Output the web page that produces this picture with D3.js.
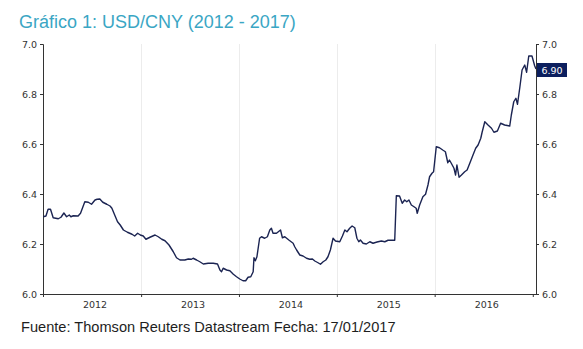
<!DOCTYPE html>
<html>
<head>
<meta charset="utf-8">
<script src="https://cdn.jsdelivr.net/npm/d3@7/dist/d3.min.js"></script>
<style>
  html, body { margin: 0; padding: 0; background: #ffffff; }
  svg { display: block; }
</style>
</head>
<body>
<svg id="chart" width="583" height="349"></svg>
<script>
// USD/CNY exchange rate, roughly fortnightly readings, Jan 2012 – Jan 2017
const dates = [
  "2012-01-02","2012-01-12","2012-01-20","2012-01-29","2012-02-08","2012-02-27","2012-03-08","2012-03-19",
  "2012-03-29","2012-04-08","2012-04-14","2012-04-23","2012-05-11","2012-05-20","2012-06-05","2012-06-18",
  "2012-06-30","2012-07-13","2012-07-21","2012-07-31","2012-08-11","2012-08-26","2012-09-07","2012-09-14",
  "2012-09-26","2012-10-05","2012-10-15","2012-10-27","2012-11-11","2012-11-28","2012-12-08","2012-12-19",
  "2012-12-29","2013-01-09","2013-01-19","2013-02-03","2013-02-22","2013-03-06","2013-03-19","2013-03-31",
  "2013-04-15","2013-05-01","2013-05-13","2013-05-26","2013-06-13","2013-06-26","2013-07-08","2013-07-14",
  "2013-07-27","2013-08-08","2013-08-21","2013-09-08","2013-09-27","2013-10-13","2013-10-22","2013-10-28",
  "2013-11-03","2013-11-16","2013-11-28","2013-12-11","2013-12-23","2014-01-04","2014-01-16","2014-01-26",
  "2014-02-04","2014-02-14","2014-02-23","2014-02-26","2014-03-03","2014-03-09","2014-03-19","2014-03-26",
  "2014-04-07","2014-04-17","2014-04-26","2014-05-02","2014-05-08","2014-05-21","2014-06-05","2014-06-12",
  "2014-06-21","2014-07-06","2014-07-22","2014-07-28","2014-08-04","2014-08-16","2014-08-28","2014-09-10",
  "2014-09-22","2014-10-02","2014-10-11","2014-10-23","2014-11-01","2014-11-11","2014-11-21","2014-11-29",
  "2014-12-08","2014-12-18","2014-12-27","2015-01-12","2015-01-22","2015-01-31","2015-02-08","2015-02-18",
  "2015-02-27","2015-03-09","2015-03-17","2015-03-24","2015-03-30","2015-04-09","2015-04-21","2015-05-04",
  "2015-05-16","2015-05-31","2015-06-16","2015-06-29","2015-07-11","2015-08-05","2015-08-11","2015-08-23",
  "2015-09-02","2015-09-11","2015-09-19","2015-09-27","2015-10-06","2015-10-16","2015-10-24","2015-10-28",
  "2015-11-06","2015-11-18","2015-11-28","2015-12-07","2015-12-13","2015-12-22","2015-12-28","2016-01-07",
  "2016-01-19","2016-01-31","2016-02-10","2016-02-19","2016-02-25","2016-03-03","2016-03-13","2016-03-19",
  "2016-03-24","2016-04-01","2016-04-10","2016-04-22","2016-05-01","2016-05-11","2016-05-23","2016-06-02",
  "2016-06-11","2016-06-21","2016-06-26","2016-07-06","2016-07-18","2016-07-31","2016-08-09","2016-08-22",
  "2016-09-03","2016-09-18","2016-10-07","2016-10-13","2016-10-22","2016-10-30","2016-11-05","2016-11-14",
  "2016-11-22","2016-12-02","2016-12-09","2016-12-17","2016-12-29","2017-01-08","2017-01-13"
];
const rates = [
  6.309,6.312,6.339,6.339,6.305,6.301,6.307,6.324,
  6.309,6.316,6.309,6.313,6.312,6.323,6.369,6.367,
  6.359,6.376,6.379,6.380,6.367,6.359,6.352,6.343,
  6.312,6.289,6.276,6.256,6.247,6.239,6.232,6.243,
  6.236,6.232,6.219,6.227,6.236,6.229,6.219,6.213,
  6.196,6.169,6.145,6.136,6.136,6.140,6.139,6.143,
  6.136,6.129,6.120,6.123,6.123,6.120,6.096,6.089,
  6.103,6.096,6.093,6.079,6.069,6.060,6.053,6.053,
  6.067,6.069,6.089,6.145,6.133,6.149,6.223,6.229,
  6.223,6.229,6.256,6.263,6.243,6.243,6.256,6.225,
  6.229,6.216,6.203,6.189,6.176,6.156,6.152,6.143,
  6.139,6.140,6.132,6.125,6.119,6.129,6.136,6.149,
  6.176,6.223,6.212,6.209,6.232,6.256,6.249,6.263,
  6.272,6.265,6.223,6.209,6.216,6.203,6.200,6.209,
  6.203,6.208,6.212,6.209,6.215,6.215,6.393,6.392,
  6.363,6.376,6.369,6.376,6.356,6.349,6.343,6.323,
  6.356,6.389,6.399,6.436,6.469,6.483,6.489,6.589,
  6.585,6.576,6.569,6.525,6.536,6.523,6.503,6.476,
  6.516,6.467,6.476,6.489,6.496,6.523,6.556,6.583,
  6.596,6.623,6.647,6.689,6.676,6.663,6.647,6.652,
  6.683,6.676,6.672,6.716,6.769,6.783,6.759,6.829,
  6.896,6.916,6.887,6.952,6.952,6.913,6.900
];
const yTicks = [6.0, 6.2, 6.4, 6.6, 6.8, 7.0];
const yearLabels = ["2012", "2013", "2014", "2015", "2016"];
const yearBounds = ["2012-01-01","2013-01-01","2014-01-01","2015-01-01","2016-01-01","2017-01-01"];
const lastLabel = "6.90";
const titleText = "Gráfico 1: USD/CNY (2012 - 2017)";
const sourceText = "Fuente: Thomson Reuters Datastream Fecha: 17/01/2017";

const parse = d3.utcParse("%Y-%m-%d");
const series = dates.map((d, i) => ({ date: parse(d), value: rates[i] }));

const svg = d3.select("#chart");
const plotLeft = 43, plotRight = 536, plotTop = 44, plotBottom = 294;

const x = d3.scaleUtc()
  .domain([parse("2012-01-01"), parse("2017-01-13")])
  .range([plotLeft, plotRight]);
const y = d3.scaleLinear().domain([6.0, 7.0]).range([plotBottom, plotTop]);

const axisColor = "#333333";
const labelFont = "'DejaVu Sans', Verdana, sans-serif";

// faint vertical year separators
svg.append("g")
  .selectAll("line")
  .data(yearBounds.slice(1, 5).map(parse))
  .join("line")
  .attr("x1", d => Math.round(x(d)) + 0.5)
  .attr("x2", d => Math.round(x(d)) + 0.5)
  .attr("y1", plotTop)
  .attr("y2", plotBottom)
  .attr("stroke", "#ececec")
  .attr("stroke-width", 1);

// left value axis
const yLeft = svg.append("g")
  .attr("transform", `translate(${plotLeft},0)`)
  .call(d3.axisLeft(y).tickValues(yTicks).tickFormat(d3.format(".1f")).tickSize(3).tickPadding(3));

// right value axis
const yRight = svg.append("g")
  .attr("transform", `translate(${plotRight},0)`)
  .call(d3.axisRight(y).tickValues(yTicks).tickFormat(d3.format(".1f")).tickSize(3).tickPadding(3));

// bottom time axis: ticks at year boundaries, labels centred in each year
const xAxis = svg.append("g")
  .attr("transform", `translate(0,${plotBottom})`)
  .call(d3.axisBottom(x).tickValues(yearBounds.map(parse)).tickFormat("").tickSize(3));

[yLeft, yRight, xAxis].forEach(g => {
  g.select(".domain").attr("stroke", axisColor).attr("stroke-width", 1);
  g.selectAll(".tick line").attr("stroke", axisColor);
  g.selectAll("text")
    .attr("fill", "#333333")
    .style("font-family", labelFont)
    .style("font-size", "9.5px");
});
xAxis.select(".domain").attr("d", `M${plotLeft},0.5H${plotRight}`);

svg.append("g")
  .selectAll("text")
  .data(yearLabels)
  .join("text")
  .attr("x", d => (x(parse(d + "-01-01")) + x(parse((+d + 1) + "-01-01"))) / 2 + 3)
  .attr("y", plotBottom + 14)
  .attr("text-anchor", "middle")
  .attr("fill", "#333333")
  .style("font-family", labelFont)
  .style("font-size", "9.5px")
  .text(d => d);

// exchange rate line
svg.append("path")
  .datum(series)
  .attr("fill", "none")
  .attr("stroke", "#1b2452")
  .attr("stroke-width", 1.4)
  .attr("stroke-linejoin", "round")
  .attr("d", d3.line().x(d => x(d.date)).y(d => y(d.value)));

// last value tag on the right axis
const tagY = y(+lastLabel) + 1;
svg.append("rect")
  .attr("x", plotRight + 1)
  .attr("y", tagY - 7)
  .attr("width", 30)
  .attr("height", 14)
  .attr("fill", "#0c1f5e");
svg.append("text")
  .attr("x", plotRight + 16)
  .attr("y", tagY + 3.5)
  .attr("text-anchor", "middle")
  .attr("fill", "#ffffff")
  .style("font-family", labelFont)
  .style("font-size", "9.5px")
  .text(lastLabel);

// title and source
svg.append("text")
  .attr("x", 19)
  .attr("y", 28)
  .attr("fill", "#3aa6c4")
  .style("font-family", "'Liberation Sans', Arial, sans-serif")
  .style("font-size", "18px")
  .text(titleText);

svg.append("text")
  .attr("x", 21)
  .attr("y", 332)
  .attr("fill", "#1e1e1e")
  .style("font-family", "'Liberation Sans', Arial, sans-serif")
  .style("font-size", "14.6px")
  .text(sourceText);
</script>
</body>
</html>
